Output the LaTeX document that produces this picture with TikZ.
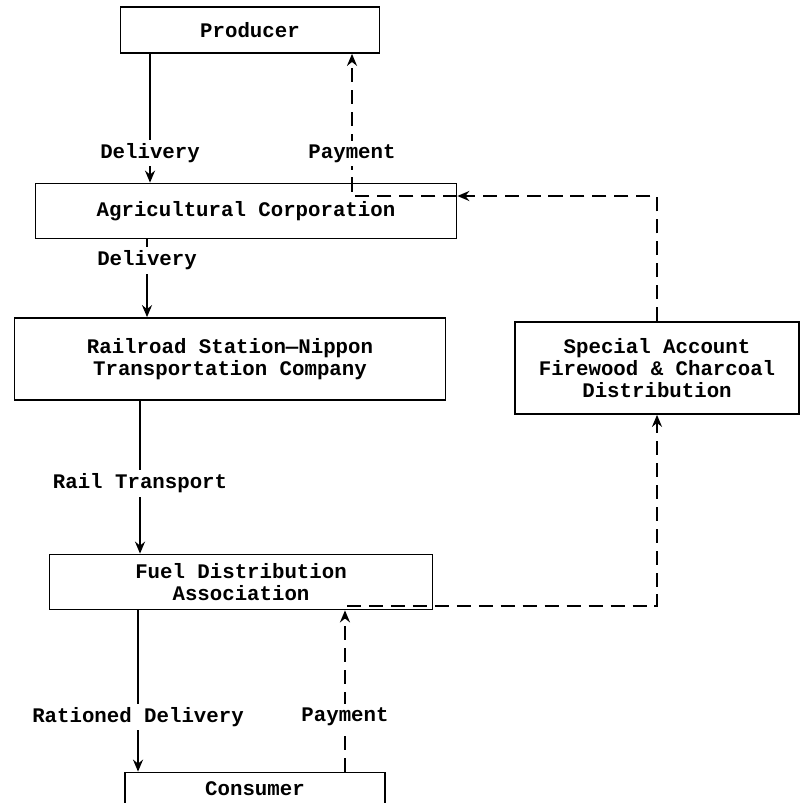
\documentclass[tikz,border=0pt]{standalone}
\usepackage{fontspec}
\setmonofont{Liberation Mono}
\usetikzlibrary{arrows.meta, positioning}

\begin{document}
\begin{tikzpicture}[x=0.02cm, y=-0.02cm, >={Stealth[length=2.4mm, width=2mm]},
  font=\ttfamily\bfseries\fontsize{11.8pt}{12.6pt}\selectfont,
  box/.style={rectangle, draw, line width=1pt, align=center, inner sep=0pt},
  flow/.style={->, line width=1.1pt},
  pay/.style={->, line width=1.1pt, dash pattern=on 8pt off 4.5pt},
  lbl/.style={fill=white, inner sep=2pt}]

\clip (0,0) rectangle (800,803);

\node[box, minimum width=5.18cm, minimum height=0.92cm] (producer) at (250,30) {Producer};
\node[box, minimum width=8.42cm, minimum height=1.1cm] (agri) at (246,211) {Agricultural Corporation};
\node[box, minimum width=8.62cm, minimum height=1.64cm] (rail) at (230,359) {Railroad Station—Nippon\\Transportation Company};
\node[box, minimum width=5.68cm, minimum height=1.84cm] (special) at (657,368) {Special Account\\Firewood \& Charcoal\\Distribution};
\node[box, minimum width=7.66cm, minimum height=1.1cm] (fuel) at (241,582) {Fuel Distribution\\Association};
\node[box, minimum width=5.2cm, minimum height=0.66cm] (consumer) at (255,789) {Consumer};

% goods
\draw[flow] ([xshift=-2cm]producer.south) -- node[lbl, pos=0.77] {Delivery} ([xshift=-2cm]producer.south |- agri.north);
\draw[flow] ([xshift=-1.98cm]agri.south) -- node[lbl, pos=0.27] {Delivery} ([xshift=-1.98cm]agri.south |- rail.north);
\draw[flow] ([xshift=-1.8cm]rail.south) -- node[lbl, pos=0.54] {Rail Transport} ([xshift=-1.8cm]rail.south |- fuel.north);
\draw[flow] ([xshift=-2.06cm]fuel.south) -- node[lbl, pos=0.66] {Rationed Delivery} ([xshift=-2.06cm]fuel.south |- consumer.north);

% money
\coordinate (agriturn) at (352,196);
\coordinate (fuelturn) at (347,606);
\draw[pay] ([xshift=1.8cm]consumer.north) -- node[lbl, pos=0.34] {Payment} ([xshift=1.8cm]consumer.north |- fuel.south);
\draw[pay] (fuelturn) -| (special.south);
\draw[pay] (special.north) |- (agri.east |- agriturn);
\draw[pay] (agri.east |- agriturn) -- (agriturn) -- node[lbl, pos=0.3] {Payment} (agriturn |- producer.south);

\end{tikzpicture}
\end{document}
